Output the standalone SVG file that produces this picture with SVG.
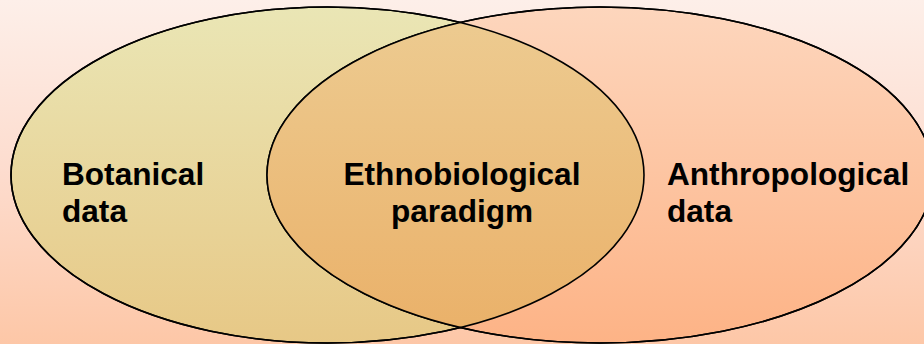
<svg xmlns="http://www.w3.org/2000/svg" width="924" height="344" viewBox="0 0 924 344">
  <defs>
    <linearGradient id="bg" x1="0" y1="0" x2="0" y2="1">
      <stop offset="0" stop-color="#fdefe9"/>
      <stop offset="0.5" stop-color="#fddcce"/>
      <stop offset="1" stop-color="#fdc7a7"/>
    </linearGradient>
    <linearGradient id="gLeft" x1="0" y1="0" x2="0" y2="1">
      <stop offset="0" stop-color="#eae6b5"/>
      <stop offset="1" stop-color="#e7c886"/>
    </linearGradient>
    <linearGradient id="gRight" x1="0" y1="0" x2="0" y2="1">
      <stop offset="0" stop-color="#fdd6bd"/>
      <stop offset="1" stop-color="#fdb386"/>
    </linearGradient>
    <linearGradient id="gMid" gradientUnits="userSpaceOnUse" x1="0" y1="7" x2="0" y2="343">
      <stop offset="0" stop-color="#edcc92"/>
      <stop offset="1" stop-color="#eab068"/>
    </linearGradient>
    <clipPath id="clipLeft">
      <ellipse cx="327.5" cy="175" rx="316.5" ry="168"/>
    </clipPath>
    <style>
      .shape { stroke: #000; stroke-width: 1.6; }
      .label { font-family: "Liberation Sans", Arial, sans-serif; font-weight: bold; font-size: 31.6px; fill: #000; }
    </style>
  </defs>
  <rect x="0" y="0" width="924" height="344" fill="url(#bg)"/>
  <g id="botanical">
    <ellipse class="shape" cx="327.5" cy="175" rx="316.5" ry="168" fill="url(#gLeft)"/>
  </g>
  <g id="anthropological">
    <ellipse class="shape" cx="600" cy="175" rx="333" ry="168" fill="url(#gRight)"/>
  </g>
  <g id="ethnobiological">
    <ellipse cx="600" cy="175" rx="333" ry="168" fill="url(#gMid)" clip-path="url(#clipLeft)"/>
    <ellipse cx="327.5" cy="175" rx="316.5" ry="168" fill="none" stroke="#000" stroke-width="1.6"/>
    <ellipse cx="600" cy="175" rx="333" ry="168" fill="none" stroke="#000" stroke-width="1.6"/>
  </g>
  <g id="labels">
    <text class="label" x="62" y="185">Botanical</text>
    <text class="label" x="62" y="222">data</text>
    <text class="label" x="462" y="185" text-anchor="middle">Ethnobiological</text>
    <text class="label" x="462" y="222" text-anchor="middle">paradigm</text>
    <text class="label" x="667" y="185">Anthropological</text>
    <text class="label" x="667" y="222">data</text>
  </g>
</svg>
